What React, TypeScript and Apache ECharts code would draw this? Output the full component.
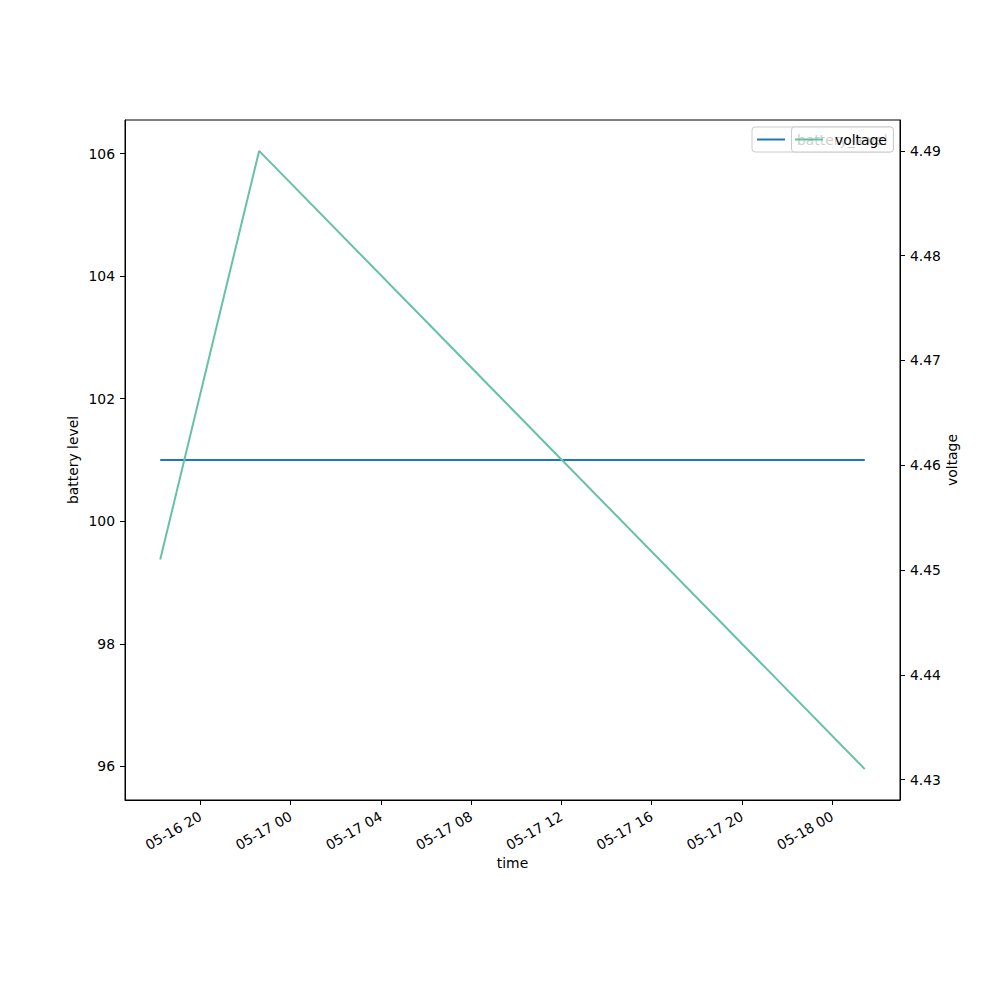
import React, { useEffect, useRef } from "react";
import * as echarts from "echarts";

const timeLabels = ["2024-05-16 18:13", "2024-05-16 22:36", "2024-05-18 01:27"];
const batteryLevel = [101, 101, 101];
const voltage = [4.451, 4.49, 4.431];
const xTickLabels = ["2024-05-16 20:00", "2024-05-17 00:00", "2024-05-17 04:00", "2024-05-17 08:00", "2024-05-17 12:00", "2024-05-17 16:00", "2024-05-17 20:00", "2024-05-18 00:00"];
const batteryTicks = [96, 98, 100, 102, 104, 106];
const voltageTicks = [4.43, 4.44, 4.45, 4.46, 4.47, 4.48, 4.49];

const toMs = (s: string) => {
  const [d, t] = s.split(" ");
  const [y, m, day] = d.split("-").map(Number);
  const [hh, mm] = t.split(":").map(Number);
  return Date.UTC(y, m - 1, day, hh, mm);
};
const pad = (n: number) => (n < 10 ? "0" + n : "" + n);
const fmt = (v: number) => {
  const d = new Date(v);
  return pad(d.getUTCMonth() + 1) + "-" + pad(d.getUTCDate()) + " " + pad(d.getUTCHours());
};
const margin = (arr: number[], flatHalf: number) => {
  let lo = Math.min(...arr), hi = Math.max(...arr);
  if (hi - lo === 0) { lo -= flatHalf; hi += flatHalf; }
  const r = hi - lo;
  return [lo - 0.05 * r, hi + 0.05 * r];
};

export default function App() {
  const ref = useRef<HTMLDivElement>(null);
  useEffect(() => {
    if (!ref.current) return;
    const chart = echarts.init(ref.current, undefined, { renderer: "svg" });
    const xs = timeLabels.map(toMs);
    const [xMin, xMax] = margin(xs, 0);
    const [bMin, bMax] = margin(batteryLevel, 5.045);
    const [vMin, vMax] = margin(voltage, 0);
    const font = "DejaVu Sans";
    const fs = 13.9;
    const axisCommon = {
      axisLine: { show: true, lineStyle: { color: "#000", width: 1 } },
      axisTick: { show: true, length: 5, inside: false, lineStyle: { color: "#000" } },
      splitLine: { show: false },
      nameMoveOverlap: false,
      nameTextStyle: { color: "#000", fontSize: fs, fontFamily: font },
    };
    chart.setOption({
      animation: false,
      backgroundColor: "#fff",
      textStyle: { fontFamily: font },
      grid: { left: 125, right: 100, top: 120, bottom: 200, show: true, borderColor: "#000", borderWidth: 1, backgroundColor: "transparent" },
      xAxis: {
        type: "value",
        min: xMin,
        max: xMax,
        name: "time",
        nameLocation: "middle",
        nameGap: 56,
        ...axisCommon,
        axisTick: { ...axisCommon.axisTick, customValues: xTickLabels.map(toMs) },
        axisLabel: { customValues: xTickLabels.map(toMs), formatter: (v: number) => fmt(v), rotate: 30, color: "#000", fontSize: fs, fontFamily: font, margin: 15 },
      },
      yAxis: [
        {
          type: "value",
          min: bMin,
          max: bMax,
          position: "left",
          name: "battery level",
          nameLocation: "middle",
          nameRotate: 90,
          nameGap: 45,
          ...axisCommon,
          axisTick: { ...axisCommon.axisTick, customValues: batteryTicks },
          axisLabel: { customValues: batteryTicks, formatter: (v: number) => String(v), color: "#000", fontSize: fs, fontFamily: font, margin: 10 },
        },
        {
          type: "value",
          min: vMin,
          max: vMax,
          position: "right",
          name: "voltage",
          nameLocation: "middle",
          nameRotate: 90,
          nameGap: 45,
          ...axisCommon,
          axisTick: { ...axisCommon.axisTick, customValues: voltageTicks },
          axisLabel: { customValues: voltageTicks, formatter: (v: number) => v.toFixed(2), color: "#000", fontSize: fs, fontFamily: font, margin: 10 },
        },
      ],
      series: [
        {
          name: "battery_level",
          type: "line",
          yAxisIndex: 0,
          data: xs.map((x, i) => [x, batteryLevel[i]]),
          showSymbol: false,
          lineStyle: { color: "#1f77b4", width: 2 },
          z: 2,
        },
        {
          name: "voltage",
          type: "line",
          yAxisIndex: 1,
          data: xs.map((x, i) => [x, voltage[i]]),
          showSymbol: false,
          lineStyle: { color: "#66c2a5", width: 2 },
          z: 3,
        },
      ],
      graphic: [
        { type: "rect", shape: { x: 752, y: 127, width: 141, height: 25, r: 3 }, style: { fill: "rgba(255,255,255,0.8)", stroke: "#cccccc", lineWidth: 1 }, z: 10 },
        { type: "line", shape: { x1: 757, y1: 139.5, x2: 785, y2: 139.5 }, style: { stroke: "#1f77b4", lineWidth: 2 }, z: 10 },
        { type: "text", x: 797, y: 139.5, style: { text: "battery_level", fill: "#000", fontSize: fs, fontFamily: font, verticalAlign: "middle", textAlign: "left" }, z: 10 },
        { type: "rect", shape: { x: 791.5, y: 127, width: 102, height: 25, r: 3 }, style: { fill: "rgba(255,255,255,0.8)", stroke: "#cccccc", lineWidth: 1 }, z: 11 },
        { type: "line", shape: { x1: 795, y1: 139.5, x2: 823, y2: 139.5 }, style: { stroke: "#66c2a5", lineWidth: 2 }, z: 11 },
        { type: "text", x: 835, y: 139.5, style: { text: "voltage", fill: "#000", fontSize: fs, fontFamily: font, verticalAlign: "middle", textAlign: "left" }, z: 11 },
      ],
    });
    return () => chart.dispose();
  }, []);
  return <div ref={ref} style={{ width: 1000, height: 1000, position: "absolute", left: 0, top: 0 }} />;
}
